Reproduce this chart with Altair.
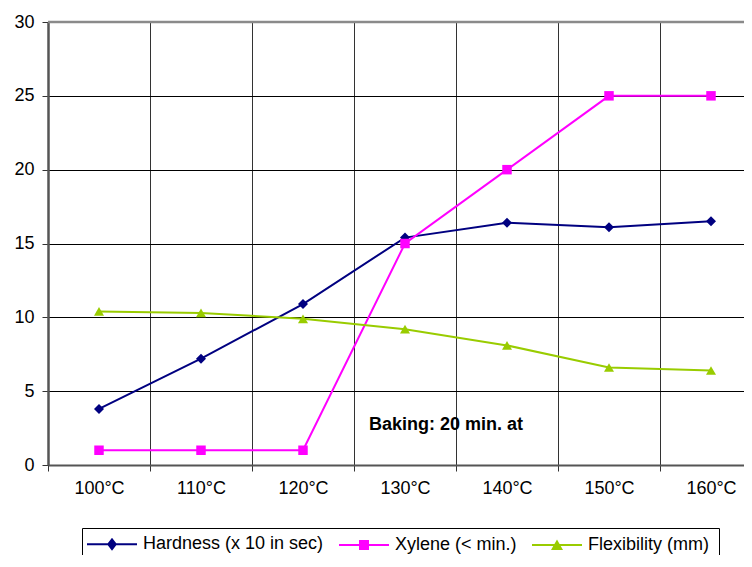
import altair as alt
import pandas as pd

temps = ["100°C", "110°C", "120°C", "130°C", "140°C", "150°C", "160°C"]
series_names = ["Hardness (x 10 in sec)", "Xylene (< min.)", "Flexibility  (mm)"]
hardness = [3.8, 7.2, 10.9, 15.4, 16.4, 16.1, 16.5]
xylene = [1, 1, 1, 15, 20, 25, 25]
flexibility = [10.4, 10.3, 9.9, 9.2, 8.1, 6.6, 6.4]
colors = ["#000080", "#FF00FF", "#99CC00"]
shapes = ["diamond", "square", "triangle-up"]
marker_sizes = [100, 90, 100]
# legend symbols: a thin filled bar (the line) plus the marker, all filled
legend_paths = [
    "M-2.5,-0.1L2.5,-0.1L2.5,0.1L-2.5,0.1ZM0,-0.65L0.5,0L0,0.65L-0.5,0Z",
    "M-2.5,-0.1L2.5,-0.1L2.5,0.1L-2.5,0.1ZM-0.5,-0.5L0.5,-0.5L0.5,0.5L-0.5,0.5Z",
    "M-2.5,-0.1L2.5,-0.1L2.5,0.1L-2.5,0.1ZM0,-0.55L0.6,0.5L-0.6,0.5Z",
]
annotation = ["Baking: 20 min. at"]
annot_temp = ["130°C"]
annot_y = [2.7]
y_ticks = [0, 5, 10, 15, 20, 25, 30]

rows = []
for name, vals in zip(series_names, [hardness, xylene, flexibility]):
    for i, v in enumerate(vals):
        rows.append({"temp": temps[i], "series": name, "value": v})
df = pd.DataFrame(rows)

FONT = "Liberation Sans"

x_scale = alt.Scale(domain=temps, range=[0, 714], paddingInner=0, paddingOuter=0)
y_scale = alt.Scale(domain=[0, 30], nice=False)

x_axis = alt.Axis(
    tickBand="extent",
    labelOverlap=False,
    labelAngle=0,
    grid=True,
    gridColor="#333333",
    gridWidth=1,
    tickSize=6,
    tickColor="#333333",
    domainColor="#555555",
    domainWidth=2,
    labelFontSize=18,
    labelFont=FONT,
    labelColor="black",
    labelPadding=8,
    title=None,
)
y_axis = alt.Axis(
    values=y_ticks,
    grid=True,
    gridColor="black",
    gridWidth=1,
    tickSize=6,
    tickColor="#333333",
    domainColor="#555555",
    domainWidth=2.5,
    labelFontSize=18,
    labelFont=FONT,
    labelColor="black",
    labelPadding=8,
    title=None,
)

legend = alt.Legend(
    orient="none",
    legendX=34,
    legendY=506,
    direction="horizontal",
    title=None,
    symbolSize=400,
    symbolOffset=14,
    symbolStrokeWidth=2,
    symbolOpacity=1,
    labelFontSize=18,
    labelFont=FONT,
    labelColor="black",
    labelLimit=400,
    labelOffset=20,
    columnPadding=11,
    padding=5,
    strokeColor="black",
    fillColor="white",
)

x_enc = alt.X("temp:N", scale=x_scale, axis=x_axis, sort=temps)
y_enc = alt.Y("value:Q", scale=y_scale, axis=y_axis)

base = alt.Chart(df).encode(x=x_enc, y=y_enc)

line_layers = []
point_layers = []
for name, col, shp, sz in zip(series_names, colors, shapes, marker_sizes):
    sub = base.transform_filter(alt.datum.series == name)
    line_layers.append(sub.mark_line(color=col, strokeWidth=2))
    point_layers.append(
        sub.mark_point(filled=True, opacity=1, size=sz, shape=shp, color=col)
    )

# invisible marks that only carry the legend (line + marker symbols)
legend_layer = alt.Chart(df).mark_point(filled=True, opacity=0).encode(
    x=x_enc,
    y=y_enc,
    fill=alt.Fill("series:N", scale=alt.Scale(domain=series_names, range=colors),
                  sort=series_names, legend=legend),
    shape=alt.Shape("series:N", scale=alt.Scale(domain=series_names, range=legend_paths),
                    sort=series_names, legend=legend),
)

top_rule = alt.Chart(pd.DataFrame({"y": [30]})).mark_rule(
    color="#8a8a8a", strokeWidth=2.5
).encode(y=alt.Y("y:Q", scale=y_scale))

text = alt.Chart(
    pd.DataFrame({"temp": annot_temp, "y": annot_y, "t": annotation})
).mark_text(
    align="left", baseline="middle", fontWeight="bold", fontSize=18, font=FONT,
    color="black", dx=-36
).encode(x=alt.X("temp:N", scale=x_scale, sort=temps), y=alt.Y("y:Q", scale=y_scale), text="t:N")

chart = alt.layer(top_rule, *line_layers, *point_layers, text, legend_layer).properties(
    width=696,
    height=443,
    autosize=alt.AutoSizeParams(type="none"),
    padding={"left": 40, "top": 14, "right": 0, "bottom": 90},
).configure_view(stroke=None)

chart.save("out.html", embed_options={"renderer": "svg", "actions": False})
